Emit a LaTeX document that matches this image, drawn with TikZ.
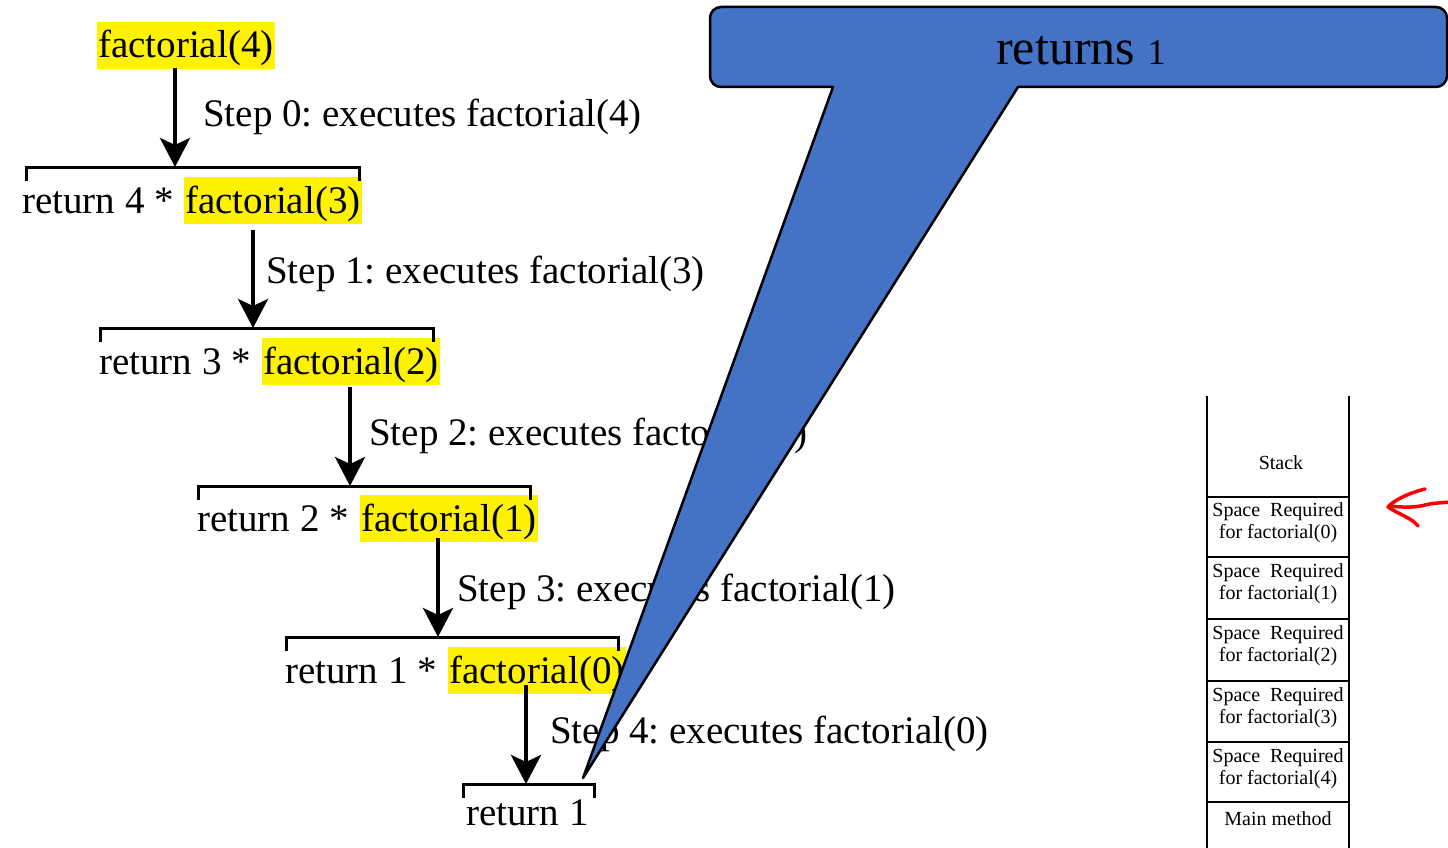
\documentclass[tikz,border=0pt]{standalone}
\usepackage{fontspec}
\setmainfont{Liberation Serif}
\usetikzlibrary{arrows.meta}
\definecolor{callblue}{RGB}{68,114,196}
\begin{document}
\frenchspacing
\begin{tikzpicture}[x=1pt,y=-1pt,
  big/.style={font=\fontsize{39}{44}\selectfont, inner sep=0pt, anchor=base west},
  hlbox/.style={big, fill=yellow, inner xsep=1pt, inner ysep=0pt, text height=36pt, text depth=11pt},
  steplbl/.style={big},
  callarrow/.style={line width=4pt, -{Stealth[length=29pt,width=30pt,inset=7pt]}},
  bracketline/.style={line width=3pt},
  stackline/.style={line width=2pt},
  cell/.style={font=\fontsize{20}{22}\selectfont, align=center, inner sep=0pt},
  redpen/.style={red, line width=3.5pt, line cap=round, line join=round}
]
\useasboundingbox (0,0) rectangle (1448,848);
\clip (0,0) rectangle (1448,848);

% row 0
\node[hlbox] (f4) at (97,58) {factorial(4)};
% row 1
\node[big] (r4) at (22,213) {return 4 *};
\node[hlbox] (f3) at (184,213) {factorial(3)};
% row 2
\node[big] (r3) at (99,374) {return 3 *};
\node[hlbox] (f2) at (262,374) {factorial(2)};
% row 3
\node[big] (r2) at (197,531) {return 2 *};
\node[hlbox] (f1) at (360,531) {factorial(1)};
% row 4
\node[big] (r1) at (285,683) {return 1 *};
\node[hlbox] (f0) at (448,683) {factorial(0)};
% row 5
\node[big] (ret1) at (466,825) {return 1};

% step labels
\node[steplbl] (s0) at (203,127) {Step 0: executes factorial(4)};
\node[steplbl] (s1) at (266,283) {Step 1: executes factorial(3)};
\node[steplbl] (s2) at (369,445) {Step 2: executes factorial(2)};
\node[steplbl] (s3) at (457,601) {Step 3: executes factorial(1)};
\node[steplbl] (s4) at (550,743) {Step 4: executes factorial(0)};

% brackets
\draw[bracketline] (26,181) -- (26,167) -- (359,167) -- (359,181);
\draw[bracketline] (100,342) -- (100,328) -- (433,328) -- (433,342);
\draw[bracketline] (198,500) -- (198,486) -- (530,486) -- (530,500);
\draw[bracketline] (286,651) -- (286,637) -- (618,637) -- (618,651);
\draw[bracketline] (463,798) -- (463,784) -- (594,784) -- (594,798);

% arrow end points
\coordinate (a0s) at (175,68);  \coordinate (a0e) at (175,167);
\coordinate (a1s) at (253,230); \coordinate (a1e) at (253,328);
\coordinate (a2s) at (350,387); \coordinate (a2e) at (350,486);
\coordinate (a3s) at (438,538); \coordinate (a3e) at (438,637);
\coordinate (a4s) at (526,685); \coordinate (a4e) at (526,784);
\draw[callarrow] (a0s) -- (a0e);
\draw[callarrow] (a1s) -- (a1e);
\draw[callarrow] (a2s) -- (a2e);
\draw[callarrow] (a3s) -- (a3e);
\draw[callarrow] (a4s) -- (a4e);

% callout
\coordinate (tip) at (583,778);
\draw[fill=callblue, line width=2.5pt, line join=round]
  (tip) -- (833,87) [rounded corners=11pt] -- (710,87) -- (710,7) -- (1447,7) -- (1447,87)
  [sharp corners] -- (1018,87) -- cycle;
\node[font=\fontsize{50}{54}\selectfont, inner sep=0pt, anchor=base] (rt) at (1081,65) {returns {\fontsize{36}{38}\selectfont 1}};

% stack
\draw[stackline] (1207,396) -- (1207,848);
\draw[stackline] (1349,396) -- (1349,848);
\foreach \yy in {497,557,619,681,742,802} {
  \draw[stackline] (1207,\yy) -- (1349,\yy);
}
\node[cell] (stk) at (1281,463) {Stack};
\node[cell] (c0) at (1278,523) {Space~ Required\\for factorial(0)};
\node[cell] (c1) at (1278,584) {Space~ Required\\for factorial(1)};
\node[cell] (c2) at (1278,646) {Space~ Required\\for factorial(2)};
\node[cell] (c3) at (1278,708) {Space~ Required\\for factorial(3)};
\node[cell] (c4) at (1278,769) {Space~ Required\\for factorial(4)};
\node[cell] (cm) at (1278,819) {Main method};

% red hand-drawn arrow
\draw[redpen] (1425,489) .. controls (1405,494) and (1392,502) .. (1388,507)
  .. controls (1398,514) and (1412,518) .. (1418,526);
\draw[redpen] (1391,506) .. controls (1405,508) and (1418,507) .. (1425,505)
  .. controls (1432,503) and (1440,503) .. (1450,502);
\end{tikzpicture}
\end{document}
